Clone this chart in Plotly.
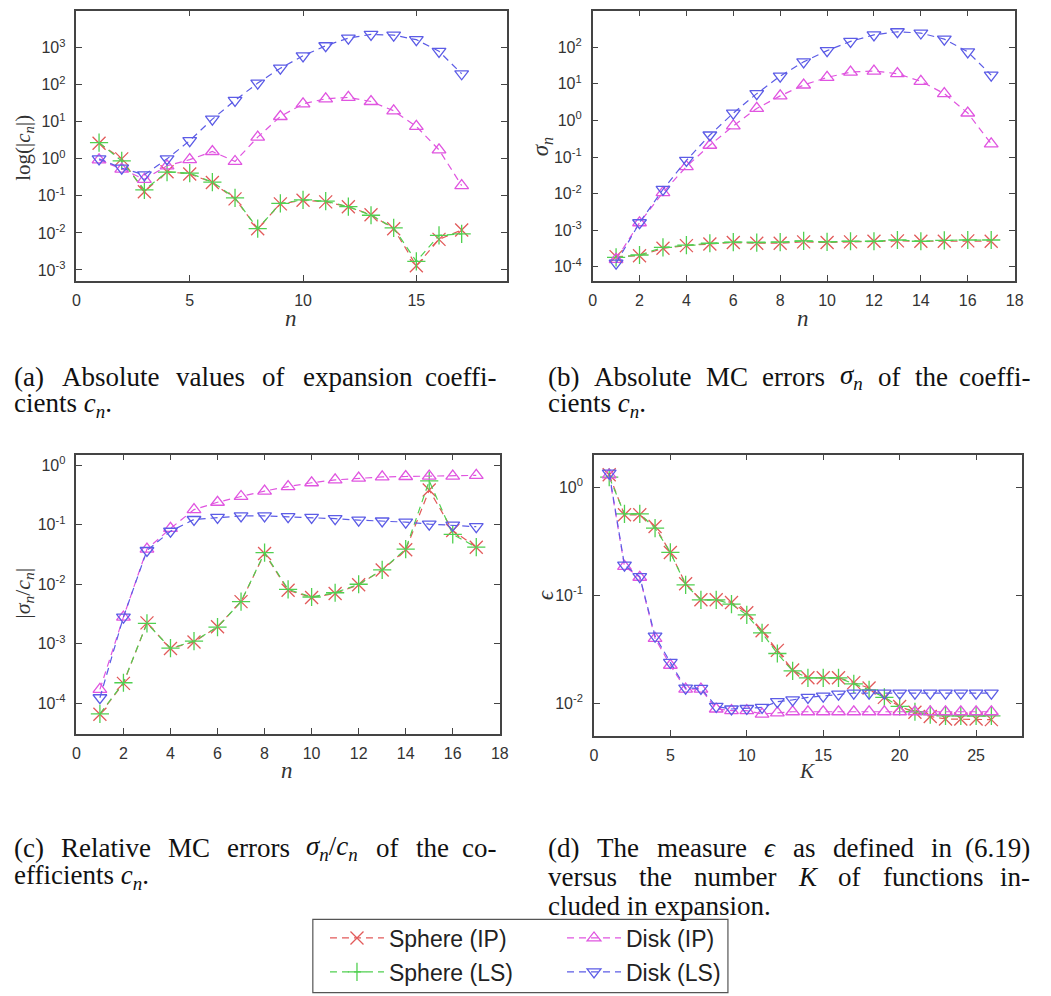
import re
import plotly.graph_objects as go

W, H = 1051, 996

# ---------------------------------------------------------------- data
n_vals = list(range(1, 18))
k_vals = list(range(1, 27))

# (a) |c_n|
a_sphere_ip = [2.65, 1.0, 0.13, 0.45, 0.39, 0.23, 0.083, 0.013, 0.061, 0.076, 0.069,
               0.051, 0.031, 0.013, 0.0013, 0.0067, 0.012]
a_sphere_ls = [2.75, 0.88, 0.145, 0.44, 0.41, 0.235, 0.088, 0.013, 0.063, 0.078, 0.072,
               0.051, 0.030, 0.0137, 0.0017, 0.0086, 0.0094]
a_disk_ip = [0.94, 0.53, 0.28, 0.65, 0.95, 1.58, 0.85, 3.85, 13.9, 30.6, 41.8,
             45.5, 35.4, 19.8, 7.5, 1.75, 0.19]
a_disk_ls = [1.0, 0.56, 0.37, 1.0, 3.1, 11.8, 38, 111, 280, 605, 1130,
             1820, 2290, 2190, 1650, 800, 198]

# (b) sigma_n
b_sphere_ip = [1.9e-4, 2.0e-4, 3.2e-4, 3.8e-4, 4.2e-4, 4.6e-4, 4.4e-4, 4.4e-4, 4.8e-4,
               4.6e-4, 4.8e-4, 5.0e-4, 5.1e-4, 5.0e-4, 5.0e-4, 5.1e-4, 5.0e-4]
b_sphere_ls = [1.8e-4, 2.1e-4, 3.4e-4, 3.9e-4, 4.4e-4, 4.7e-4, 4.6e-4, 4.7e-4, 5.1e-4,
               4.8e-4, 5.0e-4, 5.0e-4, 5.4e-4, 5.0e-4, 5.3e-4, 5.4e-4, 5.4e-4]
b_disk_ip = [1.6e-4, 1.6e-3, 0.0107, 0.055, 0.21, 0.71, 2.13, 4.7, 9.3, 15, 21,
             22.4, 19, 11.7, 5.4, 1.6, 0.23]
b_disk_ls = [1.26e-4, 1.6e-3, 0.013, 0.081, 0.40, 1.59, 5.4, 16.3, 40, 81, 145,
             219, 266, 245, 167, 75, 17.4]

# (c) |sigma_n / c_n|
c_sphere_ip = [6.5e-5, 2.15e-4, 2.24e-3, 8.3e-4, 1.07e-3, 1.93e-3, 5.1e-3, 0.033, 7.9e-3,
               6.0e-3, 7.0e-3, 9.8e-3, 0.0174, 0.038, 0.385, 0.080, 0.042]
c_sphere_ls = [6.6e-5, 2.2e-4, 2.2e-3, 8.4e-4, 1.1e-3, 1.9e-3, 5.1e-3, 0.034, 8.2e-3,
               6.1e-3, 7.2e-3, 0.010, 0.0174, 0.039, 0.55, 0.069, 0.042]
c_disk_ip = [1.7e-4, 2.8e-3, 0.039, 0.087, 0.18, 0.24, 0.30, 0.37, 0.44, 0.51, 0.57,
             0.61, 0.64, 0.65, 0.66, 0.66, 0.68]
c_disk_ls = [1.23e-4, 2.8e-3, 0.037, 0.078, 0.123, 0.133, 0.141, 0.141, 0.137, 0.133,
             0.127, 0.12, 0.116, 0.111, 0.103, 0.099, 0.093]

# (d) epsilon versus K
d_sphere_ip = [1.30, 0.555, 0.555, 0.433, 0.249, 0.128, 0.091, 0.091, 0.086, 0.069, 0.047,
               0.031, 0.0204, 0.0173, 0.0173, 0.0173, 0.0156, 0.0139, 0.0114, 0.0094,
               0.0083, 0.0076, 0.0072, 0.0072, 0.0072, 0.0071]
d_sphere_ls = [1.24, 0.566, 0.566, 0.418, 0.25, 0.125, 0.091, 0.091, 0.083, 0.066, 0.045,
               0.029, 0.020, 0.0173, 0.0173, 0.0173, 0.0152, 0.0134, 0.0114, 0.0094,
               0.0084, 0.0079, 0.0077, 0.0077, 0.0077, 0.0077]
d_disk_ip = [1.30, 0.185, 0.147, 0.040, 0.0226, 0.0136, 0.0136, 0.0089, 0.0086, 0.0086,
             0.0080, 0.0082, 0.0084, 0.0084, 0.0084, 0.0084, 0.0084, 0.0084, 0.0084,
             0.0084, 0.0084, 0.0084, 0.0084, 0.0084, 0.0084, 0.0084]
d_disk_ls = [1.35, 0.19, 0.149, 0.042, 0.024, 0.0139, 0.0138, 0.0094, 0.0089, 0.0090,
             0.0092, 0.0104, 0.0108, 0.0114, 0.0117, 0.0122, 0.0125, 0.0125, 0.0125,
             0.0125, 0.0125, 0.0125, 0.0125, 0.0125, 0.0125, 0.0125]

series_names = ["Sphere (IP)", "Sphere (LS)", "Disk (IP)", "Disk (LS)"]

# ---------------------------------------------------------------- styling
RED, GREEN, MAGENTA, BLUE = "#e25a5a", "#50d050", "#e055e0", "#5c5ce6"
series_style = [
    (RED, "x-thin-open", 13),
    (GREEN, "cross-thin-open", 13),
    (MAGENTA, "triangle-up-open", 12),
    (BLUE, "triangle-down-open", 12),
]
AX = "#444444"
SANS = "Liberation Sans, Arial, sans-serif"
SERIF = "Liberation Serif, Times New Roman, serif"


def fx(x):
    return x / W


def fy(y):
    return 1 - y / H


panels = [
    dict(xs=n_vals, ys=[a_sphere_ip, a_sphere_ls, a_disk_ip, a_disk_ls],
         xpx=(73.3, 509.3), ypx=(10.7, 280.7), xrange=[0, 19], dtick=5,
         yrange=[-3.29, 4.0], decades=range(-3, 5)),
    dict(xs=n_vals, ys=[b_sphere_ip, b_sphere_ls, b_disk_ip, b_disk_ls],
         xpx=(596.0, 1023.3), ypx=(10.7, 280.7), xrange=[0, 18], dtick=2,
         yrange=[-4.38, 3.0], decades=range(-4, 4)),
    dict(xs=n_vals, ys=[c_sphere_ip, c_sphere_ls, c_disk_ip, c_disk_ls],
         xpx=(73.3, 502.0), ypx=(454.7, 734.0), xrange=[0, 18], dtick=2,
         yrange=[-4.52, 0.18], decades=range(-4, 1)),
    dict(xs=k_vals, ys=[d_sphere_ip, d_sphere_ls, d_disk_ip, d_disk_ls],
         xpx=(597.3, 1030.7), ypx=(454.7, 736.0), xrange=[0, 28], dtick=5,
         yrange=[-2.30, 0.30], decades=range(-2, 1)),
]

fig = go.Figure()
layout = {}

for i, p in enumerate(panels):
    sfx = "" if i == 0 else str(i + 1)
    xa, ya = "x" + sfx, "y" + sfx
    for j, vals in enumerate(p["ys"]):
        color, symbol, size = series_style[j]
        fig.add_trace(go.Scatter(
            x=p["xs"], y=vals, xaxis=xa, yaxis=ya, mode="lines+markers",
            name=series_names[j],
            line=dict(color=color, width=1.2, dash="7px,5px"),
            marker=dict(symbol=symbol, size=size, color=color,
                        line=dict(color=color, width=1.3)),
            showlegend=(i == 0),
            legend="legend" if j == 0 else "legend%d" % (j + 1),
        ))
    common = dict(showline=True, linecolor=AX, linewidth=1.5, mirror="ticks",
                  ticks="inside", ticklen=6, tickwidth=1.2, tickcolor=AX,
                  showgrid=False, zeroline=False,
                  tickfont=dict(family=SANS, size=16, color="#333333"))
    layout["xaxis" + sfx] = dict(
        domain=[fx(p["xpx"][0]), fx(p["xpx"][1])], range=p["xrange"],
        tick0=0, dtick=p["dtick"], anchor=ya, ticklabelstandoff=4, **common)
    dec = list(p["decades"])
    layout["yaxis" + sfx] = dict(
        type="log", domain=[fy(p["ypx"][1]), fy(p["ypx"][0])], range=p["yrange"],
        tickvals=[10.0 ** d for d in dec],
        ticktext=["10<sup>%d</sup>" % d for d in dec],
        anchor=xa, ticklabelstandoff=6, **common)

# ---------------------------------------------------------------- axis titles
annotations = []


def label(x, y, text, size, angle=0, family=SERIF):
    annotations.append(dict(
        xref="paper", yref="paper", x=fx(x), y=fy(y), text=text, showarrow=False,
        textangle=angle, xanchor="center", yanchor="middle",
        font=dict(family=family, size=size, color="#333333")))


label(291, 318, "<i>n</i>", 23)
label(809, 318, "<i>n</i>", 23)
label(287, 770, "<i>n</i>", 23)
label(813, 771, "<i>K</i>", 21)
label(20, 148, "log(|<i>c</i><sub><i>n</i></sub>|)", 21, -90)
label(545, 147, "<i>σ</i><sub><i>n</i></sub>", 23, -90)
label(20, 593, "|<i>σ</i><sub><i>n</i></sub>/<i>c</i><sub><i>n</i></sub>|", 22, -90)
label(548, 595, "<i>ϵ</i>", 23, -90)

# ---------------------------------------------------------------- captions
CAP_SIZE = 27
TIMES_W = {' ': 250, '(': 333, ')': 333, '.': 250, '-': 333, '/': 278, '|': 200,
           'a': 444, 'b': 500, 'c': 444, 'd': 500, 'e': 444, 'f': 333, 'g': 500,
           'h': 500, 'i': 278, 'j': 278, 'k': 500, 'l': 278, 'm': 778, 'n': 500,
           'o': 500, 'p': 500, 'q': 500, 'r': 333, 's': 389, 't': 278, 'u': 500,
           'v': 500, 'w': 722, 'x': 500, 'y': 500, 'z': 444, 'A': 722, 'C': 667,
           'K': 667, 'M': 889, 'R': 667, 'T': 611, 'σ': 520, 'ϵ': 420}


def word_width(html, size):
    total = 0.0
    scale = 1.0
    for tok in re.split(r"(<[^>]+>)", html):
        if tok.startswith("<"):
            if tok == "<sub>":
                scale = 0.7
            elif tok == "</sub>":
                scale = 1.0
            continue
        for ch in tok:
            total += TIMES_W.get(ch, 500 if ch.isdigit() else 480) * scale
    return total / 1000.0 * size


def caption_line(x0, x1, y, words, justify):
    font = dict(family=SERIF, size=CAP_SIZE, color="#111111")
    if not justify:
        annotations.append(dict(xref="paper", yref="paper", x=fx(x0), y=fy(y),
                                text=" ".join(words), showarrow=False,
                                xanchor="left", yanchor="middle", font=font))
        return
    widths = [word_width(w, CAP_SIZE) for w in words]
    gap = (x1 - x0 - sum(widths)) / (len(words) - 1)
    pos = x0
    for k, (w, wd) in enumerate(zip(words, widths)):
        last = k == len(words) - 1
        annotations.append(dict(xref="paper", yref="paper",
                                x=fx(x1 if last else pos), y=fy(y),
                                text=w, showarrow=False,
                                xanchor="right" if last else "left",
                                yanchor="middle", font=font))
        pos += wd + gap


cn = "<i>c</i><sub><i>n</i></sub>"
sn = "<i>σ</i><sub><i>n</i></sub>"
caption_line(8, 500, 377, ["(a)", "Absolute", "values", "of", "expansion", "coeffi-"], True)
caption_line(8, None, 405, ["cients", cn + "."], False)
caption_line(549, 1041, 377, ["(b)", "Absolute", "MC", "errors", sn, "of", "the", "coeffi-"], True)
caption_line(549, None, 405, ["cients", cn + "."], False)
caption_line(8, 500, 848, ["(c)", "Relative", "MC", "errors", sn + "/" + cn, "of", "the", "co-"], True)
caption_line(8, None, 877, ["efficients", cn + "."], False)
caption_line(549, 1041, 848, ["(d)", "The", "measure", "<i>ϵ</i>", "as", "defined", "in", "(6.19)"], True)
caption_line(549, 1041, 877, ["versus", "the", "number", "<i>K</i>", "of", "functions", "in-"], True)
caption_line(549, None, 906, ["cluded", "in", "expansion."], False)

# ---------------------------------------------------------------- legend
legend_pos = [(325, 938), (325, 972), (565, 938), (565, 972)]
for j, (lx, ly) in enumerate(legend_pos):
    key = "legend" if j == 0 else "legend%d" % (j + 1)
    layout[key] = dict(x=fx(lx), y=fy(ly), xanchor="left", yanchor="middle",
                       bgcolor="rgba(0,0,0,0)", borderwidth=0, itemwidth=54,
                       font=dict(family=SANS, size=23, color="#222222"))

shapes = [dict(type="rect", xref="paper", yref="paper",
               x0=fx(312.7), x1=fx(733), y0=fy(992.7), y1=fy(919.3),
               line=dict(color="#555555", width=1.2), fillcolor="rgba(0,0,0,0)")]

fig.update_layout(
    width=W, height=H, margin=dict(l=0, r=0, t=0, b=0),
    paper_bgcolor="white", plot_bgcolor="white",
    annotations=annotations, shapes=shapes, **layout)

fig.write_html("out.html")
